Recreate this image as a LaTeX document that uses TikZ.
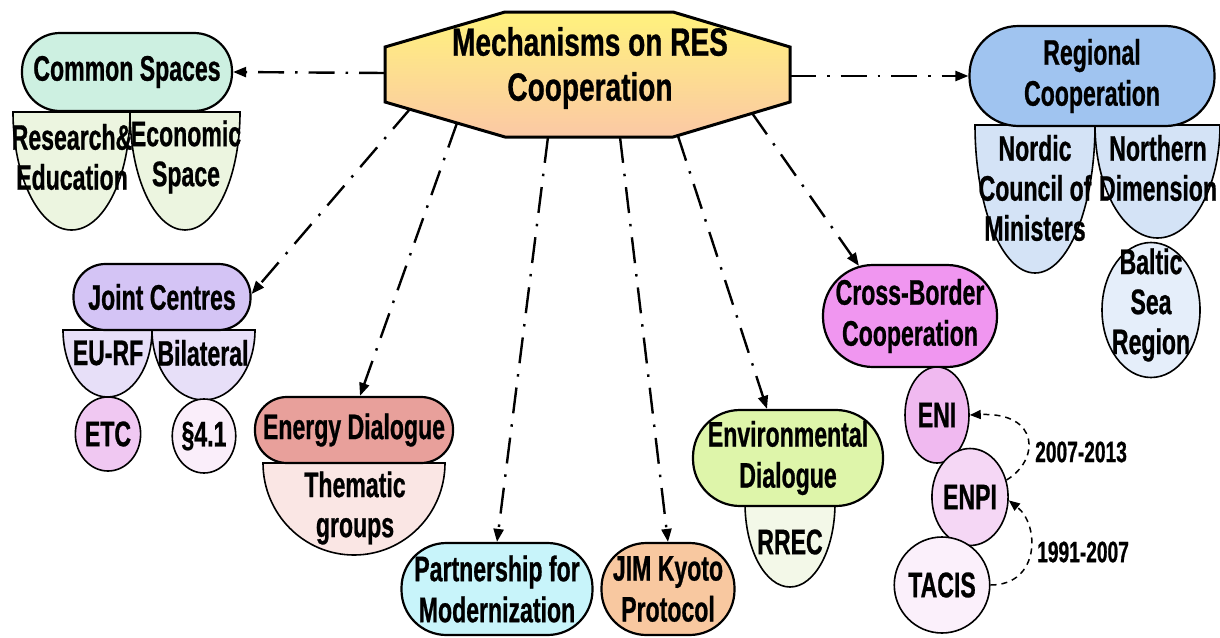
\documentclass[tikz,border=0pt]{standalone}
\usepackage{fontspec}
\setmainfont{Liberation Sans}[FakeStretch=0.65, BoldFeatures={FakeBold=0.7}]
\newfontfamily\hubfont{Liberation Sans}[FakeStretch=0.71, BoldFeatures={FakeBold=0.7}]
\usetikzlibrary{shapes.geometric,arrows.meta}

\definecolor{hubtop}{RGB}{255,242,125}
\definecolor{hubbot}{RGB}{251,200,165}
\definecolor{csfill}{RGB}{205,240,225}
\definecolor{cssub}{RGB}{236,245,224}
\definecolor{rcfill}{RGB}{160,196,240}
\definecolor{rcsub}{RGB}{212,227,246}
\definecolor{bsfill}{RGB}{229,238,250}
\definecolor{jcfill}{RGB}{212,196,245}
\definecolor{jcsub}{RGB}{231,223,248}
\definecolor{etcfill}{RGB}{240,200,242}
\definecolor{secfill}{RGB}{250,238,250}
\definecolor{edfill}{RGB}{232,160,155}
\definecolor{edsub}{RGB}{250,230,228}
\definecolor{pmfill}{RGB}{200,244,250}
\definecolor{jimfill}{RGB}{248,200,160}
\definecolor{envfill}{RGB}{222,245,170}
\definecolor{envsub}{RGB}{243,248,232}
\definecolor{cbcfill}{RGB}{240,150,240}
\definecolor{enifill}{RGB}{240,185,240}
\definecolor{enpifill}{RGB}{245,215,245}
\definecolor{tacisfill}{RGB}{251,240,251}

\tikzset{
  lbl/.style={font=\bfseries\fontsize{35.5}{40}\selectfont, align=center, inner sep=0pt},
  title/.style={font=\hubfont\bfseries\fontsize{39.5}{45}\selectfont, align=center, inner sep=0pt},
  yearlbl/.style={font=\bfseries\fontsize{29.5}{32}\selectfont, inner sep=0pt, anchor=west},
  head/.style={rectangle, draw=black, line width=2.2pt, inner sep=0pt,
               font=\bfseries\fontsize{35.5}{41}\selectfont, align=center},
  sub/.style={draw=black, line width=1.6pt},
  oval/.style={ellipse, draw=black, line width=1.6pt, inner sep=0pt,
               font=\bfseries\fontsize{35.5}{40}\selectfont, align=center},
  link/.style={line width=2.4pt, dash pattern=on 26pt off 11pt on 2.5pt off 11pt,
               -{Triangle[length=13pt,width=10pt]}},
  period/.style={line width=1.5pt, dash pattern=on 6pt off 5pt,
               -{Triangle[length=11pt,width=9pt]}},
}

\begin{document}
\begin{tikzpicture}[x=1pt,y=-1pt]
\fill[white] (0,0) rectangle (1220,637);
\useasboundingbox (0,0) rectangle (1220,637);

% ---- central hub ----
\draw[line width=3pt, line join=miter, top color=hubtop, bottom color=hubbot]
  (505,12) -- (673,12) -- (790,47) -- (790,102) -- (673,137) -- (505,137) -- (385,102) -- (385,47) -- cycle;
\node[title] (hub) at (590,68) {Mechanisms on RES\\Cooperation};
\coordinate (h-w)   at (385,73);
\coordinate (h-e)   at (790,76);
\coordinate (h-jc)  at (410,109);
\coordinate (h-ed)  at (457,123);
\coordinate (h-pm)  at (548,137);
\coordinate (h-jim) at (620,137);
\coordinate (h-env) at (678,136);
\coordinate (h-cbc) at (752,113);

% ---- Common Spaces ----
\filldraw[sub, fill=cssub] (13,112) -- (130,112) arc[start angle=0,end angle=180,x radius=58.5,y radius=118] -- cycle;
\filldraw[sub, fill=cssub] (130,112) -- (240,112) arc[start angle=0,end angle=180,x radius=55,y radius=118] -- cycle;
\node[lbl] (re) at (72,157) {Research\&\\Education};
\node[lbl] (es) at (186,157) {Economic\\Space};
\node[head, fill=csfill, minimum width=210pt, minimum height=78pt, rounded corners=38pt] (cs) at (127,72) {Common Spaces};

% ---- Regional Cooperation ----
\filldraw[sub, fill=rcsub] (975,125) -- (1095,125) arc[start angle=0,end angle=180,x radius=60,y radius=148] -- cycle;
\filldraw[sub, fill=rcsub] (1095,125) -- (1220,125) arc[start angle=0,end angle=180,x radius=62.5,y radius=113] -- cycle;
\node[lbl] (ncm) at (1035,188) {Nordic\\Council of\\Ministers};
\node[lbl] (nd) at (1158,168) {Northern\\Dimension};
\node[oval, fill=bsfill, minimum width=98pt, minimum height=135pt] (bsr) at (1151,310) {};
\node[lbl] (bsrt) at (1151,305) {Baltic\\Sea\\Region};
\node[head, fill=rcfill, minimum width=245pt, minimum height=100pt, rounded corners=49pt] (rc) at (1092,76) {Regional\\Cooperation};

% ---- Joint Centres ----
\filldraw[sub, fill=jcsub] (63,330) -- (152,330) arc[start angle=0,end angle=180,x radius=44.5,y radius=67] -- cycle;
\filldraw[sub, fill=jcsub] (152,330) -- (255,330) arc[start angle=0,end angle=180,x radius=51.5,y radius=70] -- cycle;
\node[lbl] (eurf) at (108,353) {EU-RF};
\node[lbl] (bil) at (203,353) {Bilateral};
\node[oval, fill=etcfill, minimum width=63pt, minimum height=74pt] (etc) at (108,434) {ETC};
\node[oval, fill=secfill, minimum width=62pt, minimum height=74pt] (sec) at (204,436) {§4.1};
\node[head, fill=jcfill, minimum width=177pt, minimum height=66pt, rounded corners=32pt] (jc) at (162,297) {Joint Centres};

% ---- Energy Dialogue ----
\filldraw[sub, fill=edsub] (263,463) -- (445,463) arc[start angle=0,end angle=180,x radius=91,y radius=92] -- cycle;
\node[lbl] (tg) at (355,508) {Thematic\\groups};
\node[head, fill=edfill, minimum width=198pt, minimum height=66pt, rounded corners=32pt] (ed) at (354,430) {Energy Dialogue};

% ---- Partnership / JIM ----
\node[head, fill=pmfill, minimum width=191pt, minimum height=92pt, rounded corners=45pt] (pm) at (497,589) {Partnership for\\Modernization};
\node[head, fill=jimfill, minimum width=133pt, minimum height=92pt, rounded corners=45pt] (jim) at (668,589) {JIM Kyoto\\Protocol};

% ---- Environmental Dialogue ----
\filldraw[sub, fill=envsub] (745,503) -- (835,503) arc[start angle=0,end angle=180,x radius=45,y radius=84] -- cycle;
\node[lbl] (rrec) at (790,542) {RREC};
\node[head, fill=envfill, minimum width=190pt, minimum height=96pt, rounded corners=47pt] (env) at (788,458) {Environmental\\Dialogue};

% ---- Cross-Border Cooperation ----
\node[head, fill=cbcfill, minimum width=174pt, minimum height=102pt, rounded corners=50pt] (cbc) at (910,316) {Cross-Border\\Cooperation};
\node[oval, fill=enifill, minimum width=64pt, minimum height=96pt] (eni) at (937,415) {ENI};
\node[oval, fill=enpifill, minimum width=66pt, minimum height=97pt] (enpi) at (970,497) {ENPI};
\node[oval, fill=tacisfill, minimum width=65pt, minimum height=96pt] (tacis) at (942,585) {TACIS};

\draw[period] (tacis.east) .. controls (1040,585) and (1040,525) .. (enpi.-5);
\draw[period] (enpi.25) .. controls (1040,460) and (1040,412) .. (eni.east);
\node[yearlbl] (y1) at (1035,452) {2007-2013};
\node[yearlbl] (y2) at (1037,552) {1991-2007};

% ---- connectors from the hub ----
\draw[link] (h-w) -- (cs.east);
\draw[link] (h-e) -- (rc.west);
\draw[link] (h-jc) -- ([yshift=3pt]jc.east);
\draw[link] (h-ed) -- ([xshift=6pt]ed.north);
\draw[link] (h-pm) -- (pm.north);
\draw[link] (h-jim) -- (jim.north);
\draw[link] (h-env) -- ([xshift=-21pt]env.north);
\draw[link] (h-cbc) -- ([xshift=37pt,yshift=-2pt]cbc.north west);
\end{tikzpicture}
\end{document}
